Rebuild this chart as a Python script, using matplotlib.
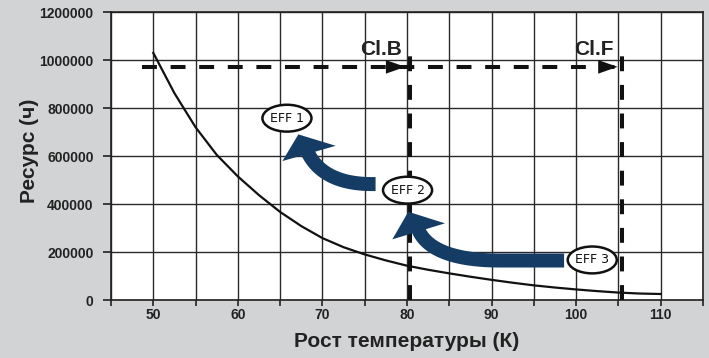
import matplotlib
matplotlib.use('Agg')
import numpy as np
import matplotlib.pyplot as plt
from matplotlib.patches import Ellipse, Polygon

plt.rcParams['font.family'] = ['Liberation Sans', 'DejaVu Sans']

# service life vs temperature rise
temps = [50, 52.5, 55, 57.5, 60, 62.5, 65, 67.5, 70, 72.5, 75, 77.5, 80,
         82.5, 85, 87.5, 90, 92.5, 95, 97.5, 100, 102.5, 105, 107.5, 110]
life_hours = [1030000, 862000, 720000, 605000, 515000, 437000, 367000, 308000,
              258000, 220000, 190000, 165000, 143000, 126000, 111000, 97000,
              84000, 72000, 61000, 52000, 44000, 37000, 31000, 27000, 25000]

xticks = list(range(45, 116, 5))
xtick_labels = ['' if t % 10 else str(t) for t in xticks]
yticks = [0, 200000, 400000, 600000, 800000, 1000000, 1200000]

class_limits = [80.3, 105.4]
class_names = ['Cl.B', 'Cl.F']
class_level = 972000

eff_names = ['EFF 1', 'EFF 2', 'EFF 3']
eff_pos = [(65.8, 758000), (80.06, 458000), (101.9, 167000)]

bg = '#d2d3d5'
navy = '#143c64'

fig = plt.figure(figsize=(7.09, 3.58), dpi=100, facecolor=bg)
ax = fig.add_axes([0.1566, 0.162, 0.835, 0.804])
ax.set_facecolor('white')

ax.set_xlim(45, 115)
ax.set_ylim(0, 1200000)
ax.set_xticks(xticks)
ax.set_xticklabels(xtick_labels)
ax.set_yticks(yticks)
ax.set_yticklabels([str(v) for v in yticks])
ax.grid(True, color='#2a2a2a', lw=1.0, zorder=0)
for s in ax.spines.values():
    s.set_color('#222222')
    s.set_linewidth(1.2)
ax.tick_params(axis='x', direction='out', length=4, width=1.2, color='#222222', pad=2)
ax.tick_params(axis='y', direction='out', length=5.5, width=1.2, color='#222222', pad=7)
for lab in ax.get_xticklabels() + ax.get_yticklabels():
    lab.set_fontweight('bold')
    lab.set_fontsize(10)
    lab.set_color('#222222')

ax.set_xlabel('Рост температуры (К)', fontsize=15, fontweight='bold', color='#222222', labelpad=7)
ax.set_ylabel('Ресурс (ч)', fontsize=15, fontweight='bold', color='#222222')
ax.yaxis.set_label_coords(-0.122, 0.52)

ax.plot(temps, life_hours, color='#111111', lw=1.6, zorder=3)

# insulation class limits
dash = (0, (3.7, 3.4))
ax.plot([48.7, class_limits[1]], [class_level, class_level], color='#111111', lw=2.9,
        linestyle=dash, zorder=4)
for xl, name in zip(class_limits, class_names):
    ax.plot([xl, xl], [0, 1054000], color='#111111', lw=2.9, linestyle=dash, zorder=4)
    ax.annotate('', xy=(xl - 0.5, class_level), xytext=(xl - 3.0, class_level),
                arrowprops=dict(arrowstyle='-|>,head_length=1.0,head_width=0.35',
                                mutation_scale=14, color='#111111', lw=0,
                                shrinkA=0, shrinkB=0), zorder=5)
    ax.text(xl - 0.95, 1020000, name, ha='right', va='baseline', fontsize=15,
            fontweight='bold', color='#222222', zorder=5)


def bent_arrow(ax, tail, bend, c1, c2, end, head, width_px, color):
    # shaft: straight run then a cubic bend, built as a band in pixel space
    to_px = ax.transData.transform
    to_data = ax.transData.inverted().transform
    p = to_px(np.array([tail, bend, c1, c2, end], dtype=float))
    t = np.linspace(0, 1, 40)[:, None]
    curve = ((1 - t) ** 3 * p[1] + 3 * (1 - t) ** 2 * t * p[2]
             + 3 * (1 - t) * t ** 2 * p[3] + t ** 3 * p[4])
    line = np.vstack([p[0], curve])
    d = np.gradient(line, axis=0)
    d /= np.linalg.norm(d, axis=1)[:, None]
    n = np.column_stack([-d[:, 1], d[:, 0]]) * width_px / 2
    band = np.vstack([line + n, (line - n)[::-1]])
    ax.add_patch(Polygon(to_data(band), closed=True, facecolor=color, lw=0, zorder=6))
    ax.add_patch(Polygon(head, closed=True, facecolor=color, lw=0, zorder=6))


bent_arrow(ax, (76.28, 483300), (75.86, 483300), (70.90, 483300), (69.0, 558300),
           (68.18, 620800), [(67.15, 690400), (65.26, 579200), (71.57, 642900)], 14, navy)
bent_arrow(ax, (98.57, 164600), (91.0, 164600), (84.49, 164600), (82.13, 229200),
           (81.35, 291700), [(80.15, 367900), (78.26, 252900), (84.49, 319600)], 14, navy)

for name, (ex, ey) in zip(eff_names, eff_pos):
    ax.add_patch(Ellipse((ex, ey), 5.8, 112000, facecolor='white', edgecolor='#111111',
                         lw=1.8, zorder=7))
    ax.text(ex, ey, name, ha='center', va='center', fontsize=9, family='DejaVu Sans',
            color='#111111', zorder=8)

fig.savefig('out.png', dpi=100, facecolor=bg)
